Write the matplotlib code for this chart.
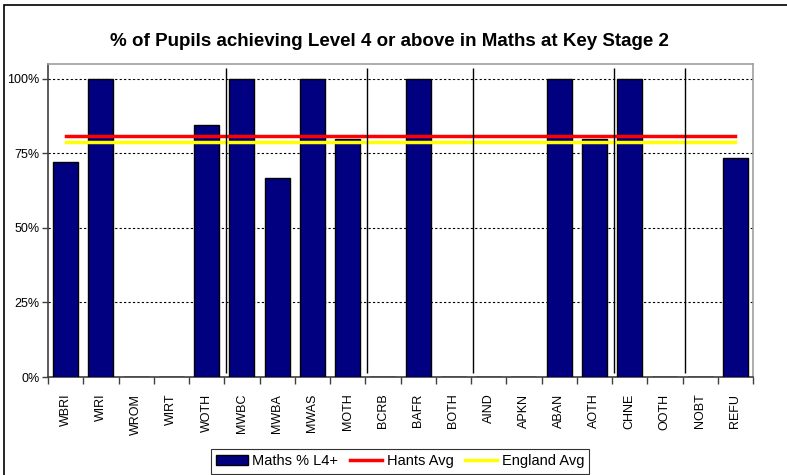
import numpy as np
import matplotlib.pyplot as plt
from matplotlib.patches import Rectangle

groups = ['WBRI', 'WIRI', 'WROM', 'WIRT', 'WOTH', 'MWBC', 'MWBA', 'MWAS', 'MOTH', 'BCRB',
          'BAFR', 'BOTH', 'AIND', 'APKN', 'ABAN', 'AOTH', 'CHNE', 'OOTH', 'NOBT', 'REFU']
maths_l4 = [0.72, 1.00, 0, 0, 0.845, 1.00, 0.667, 1.00, 0.80, 0,
            1.00, 0, 0, 0, 1.00, 0.80, 1.00, 0, 0, 0.733]
hants_avg = 0.81
england_avg = 0.79
# group dividers sit after these category indexes
dividers = [5, 9, 12, 16, 18]

plt.rcParams['font.family'] = ['Liberation Sans', 'DejaVu Sans']

fig = plt.figure(figsize=(7.87, 4.75), dpi=100)
ax = fig.add_axes([48/787, 1-377/475, (753-48)/787, (377-64)/475])

x = np.arange(len(groups))
bars = ax.bar(x, maths_l4, width=0.71, color='#000080', edgecolor='black', linewidth=1,
              label='Maths % L4+', zorder=3)
l1, = ax.plot(x, [hants_avg]*len(x), color='#ff0000', linewidth=2.5, label='Hants Avg', zorder=4)
l2, = ax.plot(x, [england_avg]*len(x), color='#ffff00', linewidth=2.5, label='England Avg', zorder=4)

for d in dividers:
    ax.vlines(d - 0.5 + 0.06, 0.012, 1.035, color='black', linewidth=1, zorder=5)

ax.set_xlim(-0.5, len(groups) - 0.5)
ax.set_ylim(0, 1.05)
ax.set_yticks([0, 0.25, 0.5, 0.75, 1.0])
ax.set_yticklabels(['0%', '25%', '50%', '75%', '100%'], fontsize=9)
ax.yaxis.grid(True, linestyle=(0, (2, 2)), color='black', linewidth=0.8, zorder=0)

ax.set_xticks(x)
ax.set_xticklabels(groups, rotation=90, fontsize=9)
ax.tick_params(axis='x', length=0, pad=12)
ax.set_xticks(np.arange(len(groups) + 1) - 0.5, minor=True)
ax.tick_params(axis='x', which='minor', length=5, color='#404040', width=1)
ax.tick_params(axis='y', length=4, color='#404040', width=1, pad=2)

for s in ['top', 'right']:
    ax.spines[s].set_color('#a0a0a0')
    ax.spines[s].set_linewidth(1.2)
for s in ['left', 'bottom']:
    ax.spines[s].set_color('#404040')
    ax.spines[s].set_linewidth(1.2)

fig.text(389/787, 1-41/475, '% of Pupils achieving Level 4 or above in Maths at Key Stage 2',
         ha='center', va='center', fontsize=13.5, fontweight='bold')

leg = fig.legend([bars, l1, l2], ['Maths % L4+', 'Hants Avg', 'England Avg'],
                 loc='upper center', bbox_to_anchor=(400/787, 1-442/475), ncol=3,
                 fontsize=10.5, frameon=True, fancybox=False, edgecolor='black',
                 borderpad=0.35, handlelength=2.2, handletextpad=0.3, columnspacing=0.8)
leg.get_frame().set_linewidth(0.8)

# outer chart border
fig.patches.append(Rectangle((4/787, -0.1), 1.0, 1-5/475 + 0.1, transform=fig.transFigure,
                             fill=False, edgecolor='black', linewidth=1.2))

fig.savefig('out.png', dpi=100)
